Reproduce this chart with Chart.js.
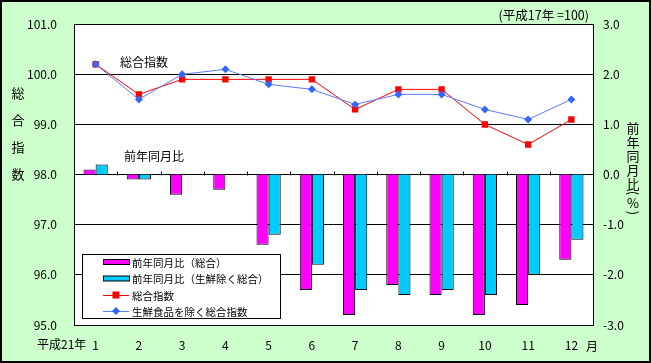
<!DOCTYPE html>
<html>
<head>
<meta charset="utf-8">
<script src="https://cdn.jsdelivr.net/npm/chart.js@4"></script>
<style>
  html, body { margin: 0; padding: 0; background: #ccffcc; }
  #wrap { width: 651px; height: 363px; }
</style>
</head>
<body>
<div id="wrap"><canvas id="cpiChart" width="651" height="363"></canvas></div>
<script>
// データ（平成21年 1月〜12月）
const months = ['1', '2', '3', '4', '5', '6', '7', '8', '9', '10', '11', '12'];
const yoyTotal = [0.1, -0.1, -0.4, -0.3, -1.4, -2.3, -2.8, -2.2, -2.4, -2.8, -2.6, -1.7];
const yoyCore = [0.2, -0.1, 0.0, 0.0, -1.2, -1.8, -2.3, -2.4, -2.3, -2.4, -2.0, -1.3];
const indexTotal = [100.2, 99.6, 99.9, 99.9, 99.9, 99.9, 99.3, 99.7, 99.7, 99.0, 98.6, 99.1];
const indexCore = [100.2, 99.5, 100.0, 100.1, 99.8, 99.7, 99.4, 99.6, 99.6, 99.3, 99.1, 99.5];

const JP = '"Noto Sans CJK JP", "Noto Sans", sans-serif';

const decor = {
    id: 'decor',
    beforeDraw(chart) {
        const c = chart.ctx, a = chart.chartArea;
        c.save();
        c.fillStyle = '#ccffcc';
        c.fillRect(0, 0, chart.width, chart.height);
        c.fillStyle = '#ffffff';
        c.fillRect(a.left, a.top, a.right - a.left, a.bottom - a.top);
        c.restore();
    },
    afterDraw(chart) {
        const c = chart.ctx, a = chart.chartArea;
        const x = chart.scales.x, y2 = chart.scales.y2;
        c.save();
        // 外枠
        c.strokeStyle = '#000';
        c.lineWidth = 2;
        c.strokeRect(1, 1, chart.width - 2, chart.height - 2);
        // グラフ枠
        c.lineWidth = 1;
        c.strokeRect(Math.round(a.left) + 0.5, Math.round(a.top) + 0.5,
            Math.round(a.right - a.left), Math.round(a.bottom - a.top));
        // 0線上の目盛
        const y0 = Math.round(y2.getPixelForValue(0)) + 0.5;
        c.beginPath();
        for (let i = 0; i < months.length - 1; i++) {
            const bx = Math.round((x.getPixelForValue(i) + x.getPixelForValue(i + 1)) / 2) + 0.5;
            c.moveTo(bx, y0);
            c.lineTo(bx, y0 - 4);
        }
        c.stroke();

        c.fillStyle = '#000';
        c.font = '12px ' + JP;
        c.textBaseline = 'middle';
        c.textAlign = 'left';
        c.fillText('総合指数', 120, 62);
        c.fillText('前年同月比', 124, 156);
        c.fillText('平成21年', 37, 344);
        c.fillText('月', 586, 346);
        c.textAlign = 'right';
        c.font = '12.5px ' + JP;
        c.fillText('(平成17年 =100)', 589, 15);

        // 縦書きタイトル
        c.textAlign = 'center';
        c.font = '13px ' + JP;
        const leftT = ['総', '合', '指', '数'];
        leftT.forEach((ch, i) => c.fillText(ch, 18, 93 + i * 27));
        const rightT = ['前', '年', '同', '月', '比'];
        rightT.forEach((ch, i) => c.fillText(ch, 633, 128 + i * 14));
        c.fillText('%', 633, 203);
        [['(', 193], [')', 213]].forEach(([ch, py]) => {
            c.save();
            c.translate(633, py);
            c.rotate(Math.PI / 2);
            c.fillText(ch, 0, 0);
            c.restore();
        });

        // 凡例
        const lx = 82, ly = 254, lw = 198, lh = 64;
        c.fillStyle = '#fff';
        c.fillRect(lx, ly, lw, lh);
        c.strokeStyle = '#000';
        c.strokeRect(lx + 0.5, ly + 0.5, lw, lh);
        const rows = [262, 278.5, 295, 311];
        const items = chart.data.datasets;
        c.font = '10.5px ' + JP;
        c.textAlign = 'left';
        items.forEach((ds, i) => {
            const ry = rows[i];
            if (ds.type === 'bar') {
                c.fillStyle = ds.backgroundColor;
                c.fillRect(103, ry - 2.5, 26, 5);
                c.strokeStyle = '#000';
                c.strokeRect(103.5, ry - 2.5, 26, 5);
            } else {
                c.strokeStyle = ds.borderColor;
                c.beginPath();
                c.moveTo(103, Math.round(ry) + 0.5);
                c.lineTo(129, Math.round(ry) + 0.5);
                c.stroke();
                c.fillStyle = ds.pointBackgroundColor;
                if (ds.pointStyle === 'rect') {
                    c.fillRect(112.5, ry - 3.5, 7, 7);
                } else {
                    c.beginPath();
                    c.moveTo(116, ry - 4);
                    c.lineTo(120, ry);
                    c.lineTo(116, ry + 4);
                    c.lineTo(112, ry);
                    c.closePath();
                    c.fill();
                }
            }
            c.fillStyle = '#000';
            c.fillText(ds.label, 132, ry + 1);
        });
        c.restore();
    }
};

new Chart(document.getElementById('cpiChart'), {
    data: {
        labels: months,
        datasets: [{
            type: 'bar',
            label: '前年同月比（総合）',
            data: yoyTotal,
            yAxisID: 'y2',
            backgroundColor: '#ff00ff',
            borderColor: '#000',
            borderWidth: 1,
            categoryPercentage: 0.56,
            barPercentage: 1.0,
            order: 2
        }, {
            type: 'bar',
            label: '前年同月比（生鮮除く総合）',
            data: yoyCore,
            yAxisID: 'y2',
            backgroundColor: '#00ccff',
            borderColor: '#000',
            borderWidth: 1,
            categoryPercentage: 0.56,
            barPercentage: 1.0,
            order: 2
        }, {
            type: 'line',
            label: '総合指数',
            data: indexTotal,
            yAxisID: 'y',
            borderColor: '#ff0000',
            borderWidth: 1,
            pointStyle: 'rect',
            pointRadius: 4.5,
            pointBackgroundColor: '#ff0000',
            pointBorderColor: '#ff0000',
            pointBorderWidth: 0,
            order: 1
        }, {
            type: 'line',
            label: '生鮮食品を除く総合指数',
            data: indexCore,
            yAxisID: 'y',
            borderColor: '#5a7cff',
            borderWidth: 1,
            pointStyle: 'rectRot',
            pointRadius: 4,
            pointBackgroundColor: '#3366ff',
            pointBorderColor: '#3366ff',
            pointBorderWidth: 0,
            order: 0
        }]
    },
    options: {
        responsive: false,
        animation: false,
        layout: { padding: { top: 21, left: 0, right: 0, bottom: 0 } },
        plugins: { legend: { display: false }, tooltip: { enabled: false } },
        scales: {
            x: {
                grid: { display: false, drawTicks: false },
                border: { display: false },
                ticks: { color: '#000', font: { family: JP, size: 12 }, padding: 13, maxRotation: 0 },
                afterFit(s) { s.height = 38; }
            },
            y: {
                position: 'left',
                min: 95, max: 101,
                ticks: { stepSize: 1, color: '#000', padding: 17, font: { family: JP, size: 12 },
                    callback: v => v.toFixed(1) },
                grid: { color: '#000', drawTicks: false, lineWidth: 1 },
                border: { display: false },
                afterFit(s) { s.width = 74; }
            },
            y2: {
                position: 'right',
                min: -3, max: 3,
                ticks: { stepSize: 1, color: '#000', padding: 10, font: { family: JP, size: 12 },
                    callback: v => v.toFixed(1) },
                grid: { display: false, drawTicks: false },
                border: { display: false },
                afterFit(s) { s.width = 58; }
            }
        }
    },
    plugins: [decor]
});
</script>
</body>
</html>
